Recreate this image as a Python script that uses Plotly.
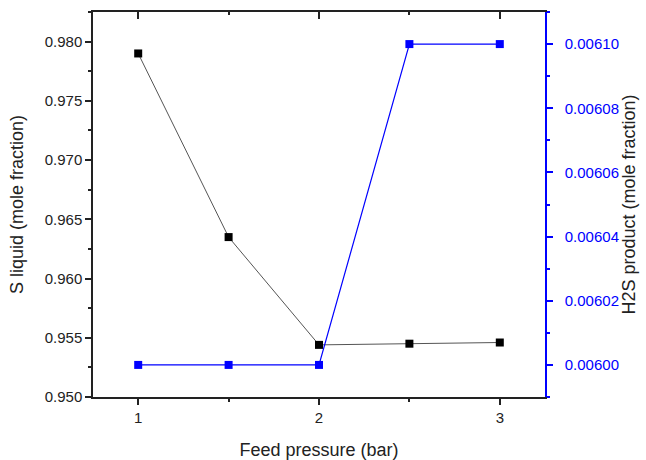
import plotly.graph_objects as go

# Feed pressure sweep
pressure = [1, 1.5, 2, 2.5, 3]
s_liquid = [0.9790, 0.9635, 0.9544, 0.9545, 0.9546]
h2s_product = [0.00600, 0.00600, 0.00600, 0.00610, 0.00610]

font_family = "Liberation Sans, Arial, sans-serif"
blue = "#0000ff"
ink = "#222222"

fig = go.Figure()

fig.add_trace(go.Scatter(
    x=pressure, y=s_liquid, mode="lines+markers",
    line=dict(color="#555555", width=1),
    marker=dict(symbol="square", size=8, color="black"),
    xaxis="x", yaxis="y", showlegend=False,
))
fig.add_trace(go.Scatter(
    x=pressure, y=h2s_product, mode="lines+markers",
    line=dict(color=blue, width=1.2),
    marker=dict(symbol="square", size=8, color=blue),
    xaxis="x", yaxis="y2", showlegend=False,
))
# carrier for the top frame axis
fig.add_trace(go.Scatter(
    x=[pressure[0]], y=[s_liquid[0]], mode="markers", opacity=0,
    xaxis="x2", yaxis="y", showlegend=False, hoverinfo="skip",
))

fig.update_layout(
    template="none",
    width=646, height=460,
    margin=dict(l=93, r=101, t=12, b=63),
    paper_bgcolor="white", plot_bgcolor="white",
    font=dict(family=font_family, size=15, color=ink),
    xaxis=dict(
        range=[0.75, 3.25], dtick=1, tick0=1,
        showgrid=False, zeroline=False,
        showline=True, linecolor=ink, linewidth=1.5,
        ticks="outside", ticklen=6, tickwidth=1.5, tickcolor=ink,
        minor=dict(dtick=0.5, ticks="outside", ticklen=3, tickcolor=ink, tickwidth=1.5, showgrid=False),
        tickfont=dict(size=15, color=ink), ticklabelstandoff=0,
        title=dict(text="Feed pressure (bar)", font=dict(size=18, color=ink), standoff=20),
    ),
    xaxis2=dict(
        overlaying="x", side="top", matches="x",
        range=[0.75, 3.25], dtick=1, tick0=1,
        showgrid=False, zeroline=False, showticklabels=False,
        showline=True, linecolor=ink, linewidth=1.5,
        ticks="inside", ticklen=7, tickwidth=1.5, tickcolor=ink,
        minor=dict(dtick=0.5, ticks="inside", ticklen=3, tickcolor=ink, tickwidth=1.5, showgrid=False),
    ),
    yaxis=dict(
        range=[0.950, 0.9825], dtick=0.005, tick0=0.95, tickformat=".3f",
        showgrid=False, zeroline=False,
        showline=True, linecolor=ink, linewidth=1.5,
        ticks="outside", ticklen=6, tickwidth=1.5, tickcolor=ink,
        minor=dict(dtick=0.0025, ticks="outside", ticklen=3, tickcolor=ink, tickwidth=1.5, showgrid=False),
        tickfont=dict(size=15, color=ink),
        title=dict(text="S liquid (mole fraction)", font=dict(size=18, color=ink), standoff=16),
    ),
    yaxis2=dict(
        overlaying="y", side="right", anchor="x",
        range=[0.00599, 0.00611], dtick=0.00002, tick0=0.006, tickformat=".5f",
        showgrid=False, zeroline=False,
        showline=True, linecolor=blue, linewidth=1.5,
        ticks="outside", ticklen=6, tickwidth=1.5, tickcolor=blue,
        minor=dict(dtick=0.00001, ticks="outside", ticklen=3, tickcolor=blue, tickwidth=1.5, showgrid=False),
        tickfont=dict(size=15, color=blue), ticklabelstandoff=9,
        title=dict(text="H2S product (mole fraction)", font=dict(size=18, color=ink), standoff=0),
    ),
)

fig.write_html("out.html")
